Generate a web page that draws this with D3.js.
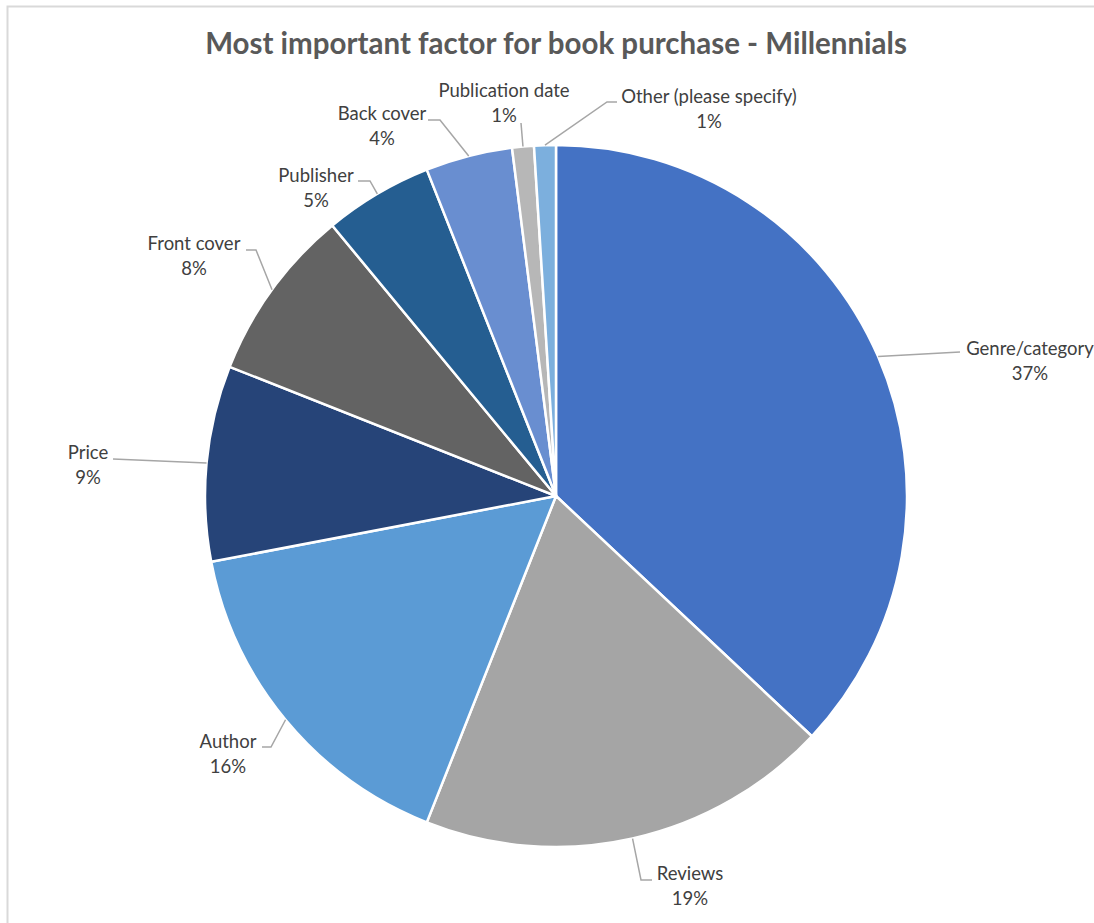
<!DOCTYPE html>
<html>
<head>
<meta charset="utf-8">
<script src="https://cdn.jsdelivr.net/npm/d3@7"></script>
<style>
  html, body { margin: 0; padding: 0; background: #ffffff; }
  svg { display: block; }
  text { font-family: Lato, "Open Sans", sans-serif; }
</style>
</head>
<body>
<svg id="chart" width="1094" height="923"></svg>
<script>
// Survey: most important factor for book purchase (Millennials), share in %
const categories = [
  "Genre/category", "Reviews", "Author", "Price", "Front cover",
  "Publisher", "Back cover", "Publication date", "Other (please specify)"
];
const shares = [37, 19, 16, 9, 8, 5, 4, 1, 1];
const sliceColors = [
  "#4472C4", "#A5A5A5", "#5B9BD5", "#264478", "#636363",
  "#255E91", "#698ED0", "#B7B7B7", "#7CAFDD"
];
const chartTitle = "Most important factor for book purchase - Millennials";

// Label placement: text centre x, first-line baseline y, and the leader
// path from the slice edge to the label.
const labelLayout = [
  { x: 1030, y: 355, leader: [[960, 352]] },
  { x: 690,  y: 880, leader: [[641, 880], [652, 880]] },
  { x: 228,  y: 748, leader: [[271, 747], [262, 747]] },
  { x: 88,   y: 459, leader: [[113, 459]] },
  { x: 194,  y: 250, leader: [[256, 250], [246, 250]] },
  { x: 316,  y: 182, leader: [[370, 181], [358, 181]] },
  { x: 382,  y: 120, leader: [[440, 120], [428, 120]] },
  { x: 504,  y: 97,  leader: [[521, 123]] },
  { x: 709,  y: 103, leader: [[607, 102], [617, 102]] }
];

const svg = d3.select("#chart");
const cx = 556, cy = 496, radius = 351;

// Outer frame
svg.append("rect")
  .attr("x", 7.5).attr("y", 6.5)
  .attr("width", 1200).attr("height", 1000)
  .attr("fill", "none")
  .attr("stroke", "#d9d9d9")
  .attr("stroke-width", 2);

// Title
svg.append("text")
  .attr("x", cx).attr("y", 54)
  .attr("text-anchor", "middle")
  .attr("font-size", 29.5)
  .attr("font-weight", 700)
  .attr("fill", "#595959")
  .text(chartTitle);

const rows = categories.map((c, i) => ({ name: c, value: shares[i], color: sliceColors[i], layout: labelLayout[i] }));

const pie = d3.pie().value(d => d.value).sort(null);
const arc = d3.arc().innerRadius(0).outerRadius(radius);
const arcs = pie(rows);

const g = svg.append("g").attr("transform", `translate(${cx},${cy})`);

g.selectAll("path.slice")
  .data(arcs)
  .join("path")
  .attr("class", "slice")
  .attr("d", arc)
  .attr("fill", d => d.data.color)
  .attr("stroke", "#ffffff")
  .attr("stroke-width", 2.5)
  .attr("stroke-linejoin", "round");

const total = d3.sum(shares);
const pct = v => Math.round(v / total * 100) + "%";

// Leader lines from the slice edge (mid-angle) to the label
const line = d3.line();
svg.selectAll("path.leader")
  .data(arcs)
  .join("path")
  .attr("class", "leader")
  .attr("d", d => {
    const a = (d.startAngle + d.endAngle) / 2;
    const start = [cx + radius * Math.sin(a), cy - radius * Math.cos(a)];
    return line([start, ...d.data.layout.leader]);
  })
  .attr("fill", "none")
  .attr("stroke", "#a6a6a6")
  .attr("stroke-width", 1.5);

// Two-line labels: category name and share
const labels = svg.selectAll("text.label")
  .data(arcs)
  .join("text")
  .attr("class", "label")
  .attr("text-anchor", "middle")
  .attr("font-size", 18.5)
  .attr("fill", "#404040");

labels.append("tspan")
  .attr("x", d => d.data.layout.x)
  .attr("y", d => d.data.layout.y)
  .text(d => d.data.name);

labels.append("tspan")
  .attr("x", d => d.data.layout.x)
  .attr("y", d => d.data.layout.y + 25)
  .text(d => pct(d.data.value));
</script>
</body>
</html>
